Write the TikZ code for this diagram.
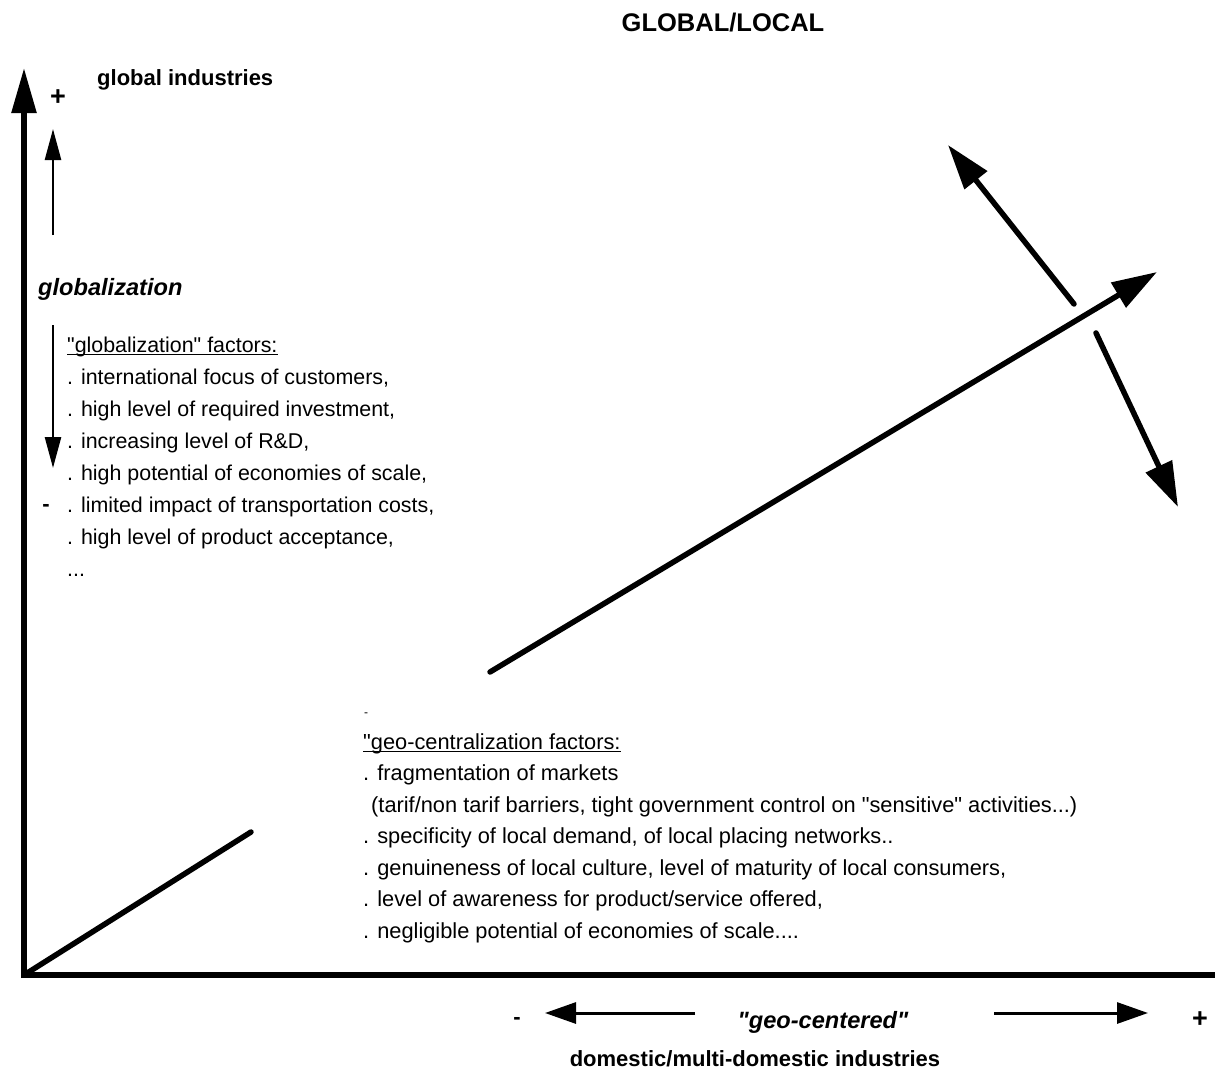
\documentclass[tikz,border=0pt]{standalone}
\usepackage{fontspec}
\setmainfont{Liberation Sans}
\usetikzlibrary{arrows.meta}

\newcommand{\sq}{\textquotedbl}

\begin{document}
\begin{tikzpicture}[x=1pt,y=-1pt,
  txt/.style={inner sep=0pt, anchor=base west, font=\fontsize{21.4}{25}\selectfont},
  geotxt/.style={inner sep=0pt, anchor=base west, font=\fontsize{21.8}{26}\selectfont},
  bold/.style={inner sep=0pt, font=\fontsize{22}{26}\selectfont\bfseries},
  sign/.style={inner sep=0pt, font=\fontsize{27}{30}\selectfont\bfseries},
  bolditalic/.style={inner sep=0pt, font=\fontsize{23.6}{27}\selectfont\bfseries\itshape},
  axisline/.style={line width=5.5pt},
  thickarrow/.style={line width=5.5pt, line cap=round, -{Triangle[length=45pt,width=28pt]}},
  thinarrow/.style={line width=2.5pt, -{Triangle[length=31pt,width=16pt]}},
  scalearrow/.style={line width=3pt, -{Triangle[length=31pt,width=21pt]}},
  underrule/.style={line width=1.3pt}]

\useasboundingbox (0,0) rectangle (1215,1073);

% axes
\coordinate (origin) at (24,975);
\coordinate (ytop) at (24,68);
\coordinate (xend) at (1215,975);
\draw[axisline, -{Triangle[length=45pt,width=24pt]}] (24,978) -- (ytop);
\draw[axisline] (21,975) -- (xend);

% title and axis labels
\node[bold, anchor=base, font=\fontsize{25.5}{28}\selectfont\bfseries] (title) at (723,32) {GLOBAL/LOCAL};
\node[bold, anchor=base west] (globind) at (97,85) {global industries};
\node[sign] (yplus) at (58,98) {+};
\node[bolditalic, anchor=base west] (glob) at (38,295) {globalization};
\node[bold] (yminus) at (46,508) {-};

% vertical direction arrows
\coordinate (upstart) at (53,235);
\coordinate (uptip) at (53,129);
\coordinate (downstart) at (53,325);
\coordinate (downtip) at (53,468);
\draw[thinarrow] (upstart) -- (uptip);
\draw[thinarrow] (downstart) -- (downtip);

% globalization factors
\node[txt] (gh) at (67,352) {\sq globalization\sq{} factors:};
\draw[underrule] ([yshift=-2.5pt]gh.base west) -- ([yshift=-2.5pt]gh.base east);
\foreach \i/\t in {1/{. international focus of customers,},
                   2/{. high level of required investment,},
                   3/{. increasing level of R\&D,},
                   4/{. high potential of economies of scale,},
                   5/{. limited impact of transportation costs,},
                   6/{. high level of product acceptance,},
                   7/{...}}
  \node[txt] (g\i) at (67,352+32*\i) {\t};

% geo-centralization factors
\node[inner sep=0pt, font=\fontsize{12}{14}\selectfont] (gdash) at (366,715) {-};
\node[geotxt] (ch) at (363,749) {\sq geo-centralization factors:};
\draw[underrule] ([yshift=-2.5pt]ch.base west) -- ([yshift=-2.5pt]ch.base east);
\node[geotxt] (c1) at (363,780.5) {. fragmentation of markets};
\node[geotxt] (c2) at (371,812) {(tarif/non tarif barriers, tight government control on \sq sensitive\sq{} activities...)};
\node[geotxt] (c3) at (363,843.5) {. specificity of local demand, of local placing networks..};
\node[geotxt] (c4) at (363,875) {. genuineness of local culture, level of maturity of local consumers,};
\node[geotxt] (c5) at (363,906.5) {. level of awareness for product/service offered,};
\node[geotxt] (c6) at (363,938) {. negligible potential of economies of scale....};

% diagonal trend lines
\coordinate (lowend) at (251,832);
\draw[line width=5.5pt, line cap=round] (origin) -- (lowend);
\coordinate (midstart) at (490,672);
\coordinate (midtip) at (1157,272);
\draw[thickarrow] (midstart) -- (midtip);
\coordinate (ulstart) at (1074,304);
\coordinate (ultip) at (948,145);
\draw[thickarrow] (ulstart) -- (ultip);
\coordinate (drstart) at (1096,333);
\coordinate (drtip) at (1178,507);
\draw[thickarrow] (drstart) -- (drtip);

% horizontal scale below the axis
\node[bold] (xminus) at (517,1021) {-};
\node[sign] (xplus) at (1200,1020) {+};
\coordinate (lstart) at (695,1013);
\coordinate (ltip) at (545,1013);
\coordinate (rstart) at (994,1013);
\coordinate (rtip) at (1148,1013);
\draw[scalearrow] (lstart) -- (ltip);
\draw[scalearrow] (rstart) -- (rtip);
\node[bolditalic, anchor=base] (geoc) at (823,1028) {\sq geo-centered\sq};
\node[bold, anchor=base] (domind) at (755,1066) {domestic/multi-domestic industries};

\end{tikzpicture}
\end{document}
